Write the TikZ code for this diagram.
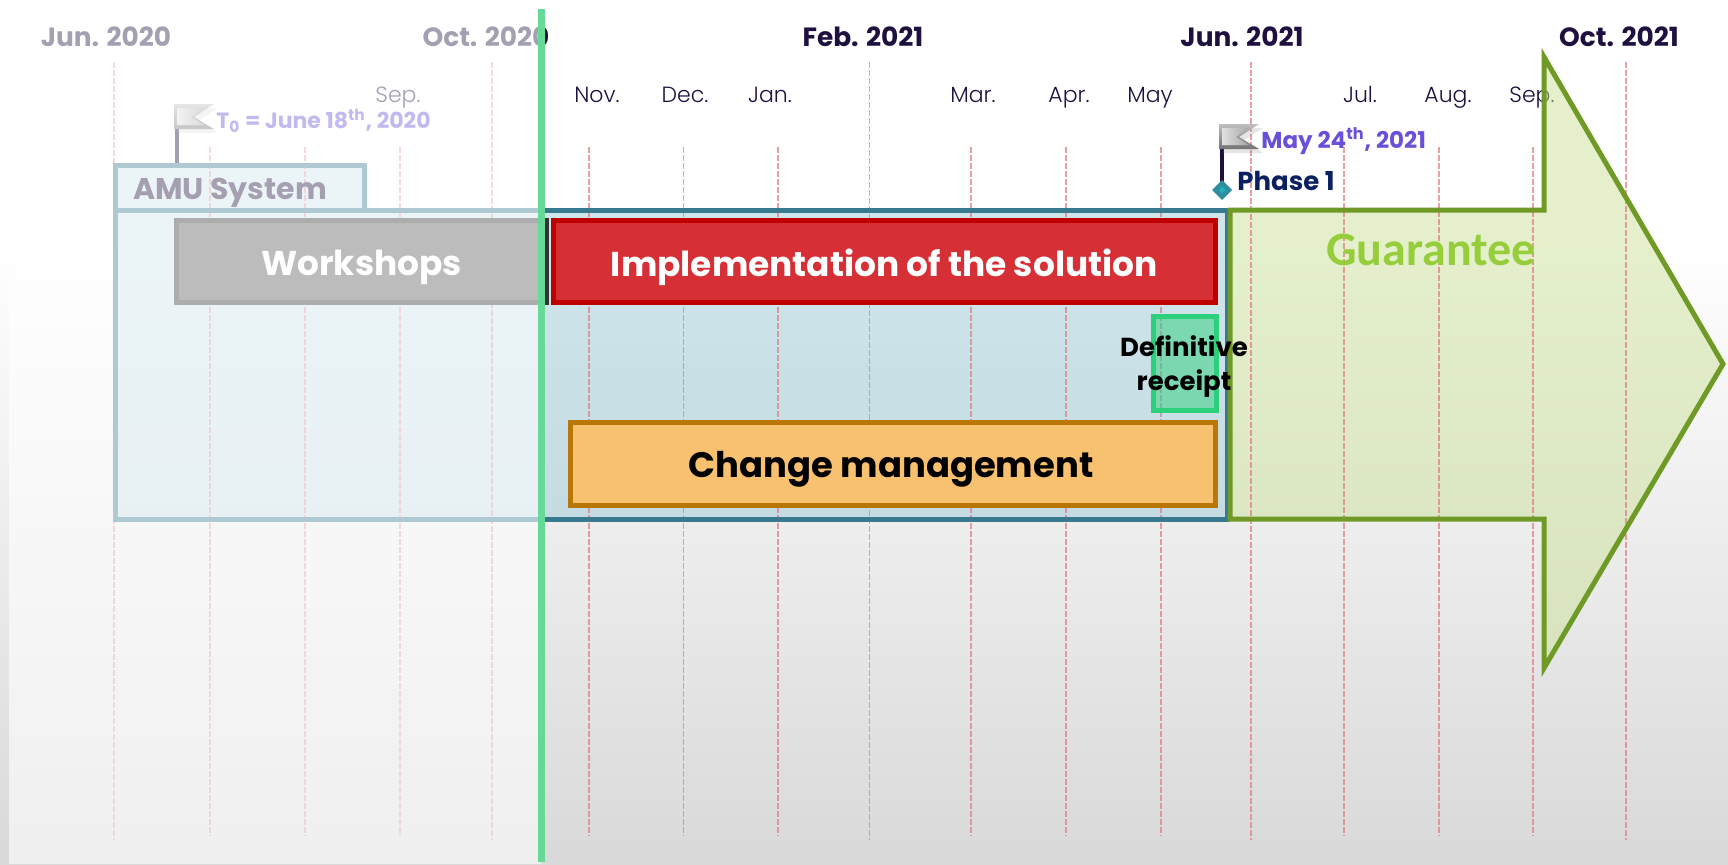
\documentclass[tikz,border=0pt]{standalone}
\usepackage{fontspec}
\setmainfont{Poppins}
\newfontfamily\lightfont{Poppins Light}
\newfontfamily\guaranteefont{Carlito}
\usetikzlibrary{shadows}
\definecolor{navy}{HTML}{1F1040}
\definecolor{phasenavy}{HTML}{0B2060}
\definecolor{violet}{HTML}{6A4FD8}
\definecolor{gridred}{HTML}{E07880}
\definecolor{paneledge}{HTML}{37798F}
\definecolor{panelfill}{HTML}{95C6D5}
\definecolor{arrowedge}{HTML}{6F9A26}
\definecolor{arrowfill}{HTML}{CCE19B}
\definecolor{guaranteegreen}{HTML}{96CD3A}
\definecolor{implfill}{HTML}{D62F36}
\definecolor{impledge}{HTML}{C00000}
\definecolor{changefill}{HTML}{F8C16F}
\definecolor{changeedge}{HTML}{B97708}
\definecolor{receiptedge}{HTML}{2DD07A}
\definecolor{todaygreen}{HTML}{66D996}
\tikzset{
    yearlabel/.style={font=\bfseries\fontsize{13.2}{15}\selectfont,text=navy},
    monthlabel/.style={font=\lightfont\fontsize{11}{12}\selectfont,text=navy,text height=8pt,text depth=2.5pt},
    gridline/.style={gridred,line width=0.9pt,dash pattern=on 3pt off 1pt,opacity=0.7},
    barbox/.style={line width=2.5pt},
    barlabel/.style={font=\bfseries\fontsize{17.2}{20}\selectfont,yshift=-3pt},
    flagtext/.style={anchor=west,inner sep=0pt,font=\bfseries\fontsize{#1}{14}\selectfont},
    flagpole/.style={navy,line width=1.8pt}
}
\newcommand{\flagmark}[2]{%
    \begin{scope}[shift={(#1,#2)}]
        \shade[top color=black!25,bottom color=black!55,drop shadow={opacity=0.2,shadow xshift=2pt,shadow yshift=-2pt}]
            (0,0) -- (40,0) -- (20,13) -- (40,25) -- (0,25) -- cycle;
        \shade[left color=black!12,right color=black!35] (3,4) -- (30,4) -- (17,13) -- (30,21) -- (3,21) -- cycle;
    \end{scope}}
\begin{document}
\begin{tikzpicture}[x=0.5pt,y=-0.5pt]
    \useasboundingbox (0,0) rectangle (1728,864);
    \fill[white] (0,0) rectangle (1728,864);
    \shade[top color=white,bottom color=black!15] (0,240) rectangle (1728,864);

    \node[yearlabel] (jun20) at (106,36.5) {Jun. 2020};
    \node[yearlabel] (oct20) at (486,36.5) {Oct. 2020};
    \node[yearlabel] (feb21) at (863,36.5) {Feb. 2021};
    \node[yearlabel] (jun21) at (1242,36.5) {Jun. 2021};
    \node[yearlabel] (oct21) at (1619,36.5) {Oct. 2021};

    \node[monthlabel] (sep20) at (398,97) {Sep.};
    \node[monthlabel] (nov20) at (597,97) {Nov.};
    \node[monthlabel] (dec20) at (685,97) {Dec.};
    \node[monthlabel] (jan21) at (770,97) {Jan.};
    \node[monthlabel] (mar21) at (973,97) {Mar.};
    \node[monthlabel] (apr21) at (1069,97) {Apr.};
    \node[monthlabel] (may21) at (1150,97) {May};
    \node[monthlabel] (jul21) at (1360,97) {Jul.};
    \node[monthlabel] (aug21) at (1448,97) {Aug.};
    \node[monthlabel] (sep21) at (1532,97) {Sep.};

    % fills of the panels, the grid runs over them
    \fill[panelfill,fill opacity=0.45] (115,165) rectangle (364,210);
    \fill[panelfill,fill opacity=0.45] (115,210) rectangle (1227,519);
    \fill[arrowfill,fill opacity=0.5] (1230,210) -- (1544,210) -- (1544,57)
        -- (1723,364) -- (1544,668) -- (1544,519) -- (1230,519) -- cycle;

    % grid of the months
    \foreach \x in {114,492,869.5,1250.6,1625.8}
        \draw[gridline] (\x,62) -- (\x,840);
    \foreach \x in {210,305,399.6,589,683.5,778,971,1065.7,1161,1344,1439,1533}
        \draw[gridline] (\x,147) -- (\x,836);

    \draw[barbox,draw=paneledge] (115,165) rectangle (364,210);
    \draw[barbox,draw=paneledge] (115,210) rectangle (1227,519);
    \node[font=\bfseries\fontsize{15}{18}\selectfont,text=navy] (amu) at (230,193) {AMU System};

    \draw[barbox,draw=arrowedge] (1230,210) -- (1544,210) -- (1544,57)
        -- (1723,364) -- (1544,668) -- (1544,519) -- (1230,519) -- cycle;
    \node[font=\guaranteefont\bfseries\fontsize{24}{27}\selectfont,text=guaranteegreen] (guarantee) at (1431,250) {Guarantee};

    % bars
    \draw[barbox,draw=black!80,fill=black!65] (176.5,220.5) rectangle (546.5,302.5) node[midway,barlabel,text=white] (workshops) {Workshops};
    \draw[barbox,draw=impledge,fill=implfill] (553.5,220.5) rectangle (1215,302.5) node[midway,barlabel,text=white] (implementation) {Implementation of the solution};
    \draw[barbox,draw=receiptedge,fill=receiptedge,fill opacity=0.5] (1153,316.5) rectangle (1216.5,410);
    \draw[barbox,draw=changeedge,fill=changefill] (570.5,422.5) rectangle (1215.5,505) node[midway,barlabel,text=black,font=\bfseries\fontsize{17.7}{20}\selectfont,xshift=-1pt] (change) {Change management};

    % flags
    \draw[flagpole] (177,128) -- (177,163);
    \flagmark{174}{104}
    \node[flagtext=11,text=violet] (tzero) at (216,121) {T\textsubscript{0} = June 18\textsuperscript{th}, 2020};

    \draw[flagpole] (1222,149) -- (1222,185);
    \flagmark{1219}{124}
    \node[flagtext=11.5,text=violet] (mayflag) at (1261,141) {May 24\textsuperscript{th}, 2021};
    \node[flagtext=13,text=phasenavy] (phase) at (1237,181) {Phase 1};
    \fill[paneledge!85!cyan] (1212,190) -- (1222,180) -- (1232,190) -- (1222,200) -- cycle;
    \fill[paneledge!60!cyan] (1218.5,190) -- (1222,186.5) -- (1225.5,190) -- (1222,193.5) -- cycle;

    \node[font=\bfseries\fontsize{13}{17}\selectfont,align=center,text=black] (receipt) at (1184,367) {Definitive\\receipt};

    % fade of the finished part
    \fill[white,fill opacity=0.6] (9,0) rectangle (541,864);
    \fill[todaygreen] (537.5,9) rectangle (544.6,861.7);
\end{tikzpicture}
\end{document}
